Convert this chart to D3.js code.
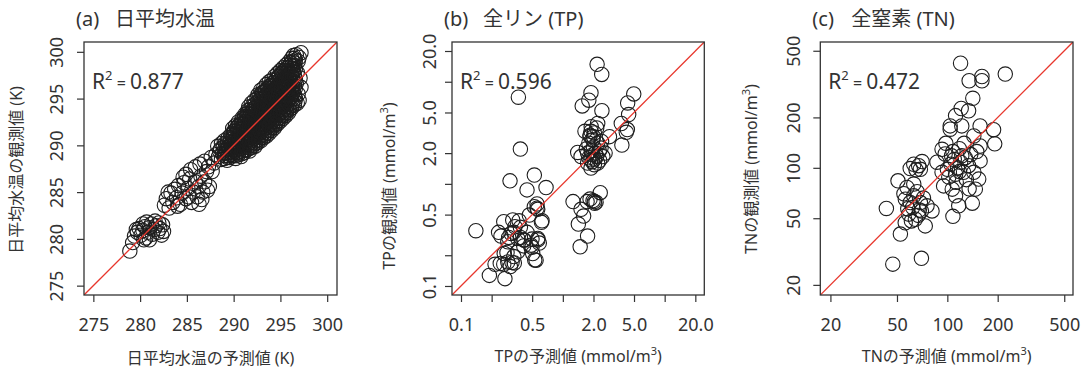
<!DOCTYPE html>
<html lang="ja">
<head>
<meta charset="UTF-8">
<title>予測値と観測値</title>
<script src="https://d3js.org/d3.v7.min.js"></script>
<style>
    body { margin: 0; background: #fff; }
    svg { display: block; font-family: "Noto Sans", "Noto Sans CJK JP", sans-serif; }
</style>
</head>
<body>
<svg id="chart" width="1083" height="369"></svg>
<script>
// (a) daily mean water temperature: [predicted, observed] (K)
const tempPoints = [
    [278.9,278.7],[279.2,279.6],[279.4,280.3],[279.7,280.7],[279.9,281.1],[280.1,280.4],[280.3,280.9],[280.5,281.3],[280.6,280.1],
    [280.8,280.7],[281.0,281.2],[281.2,281.6],[281.3,280.5],[281.5,281.0],[281.7,281.4],[281.9,280.7],[282.1,281.1],[282.3,280.4],
    [282.5,280.8],[281.0,279.9],[279.6,281.0],[280.3,281.6],[281.6,281.9],[282.0,281.7],[280.7,281.8],[282.4,281.5],[280.4,279.9],
    [282.6,283.6],[282.8,284.3],[283.1,283.3],[283.3,284.9],[283.5,283.9],[283.7,285.3],[283.9,284.4],[284.1,285.7],[284.3,283.7],
    [284.5,284.9],[284.7,286.0],[284.9,284.3],[285.1,285.4],[285.3,286.4],[285.5,283.9],[285.7,285.0],[285.9,286.1],[286.1,284.5],
    [286.3,285.6],[286.5,286.7],[286.7,285.0],[286.9,286.1],[287.1,287.2],[284.9,286.9],[285.4,287.4],[285.9,287.7],[286.4,288.0],
    [286.9,288.3],[287.3,287.7],[287.6,288.7],[287.9,288.1],[288.1,289.0],[287.7,287.2],[286.3,283.7],[287.2,285.2],[283.0,285.0],
    [284.6,286.6],[284.0,283.5],[285.2,284.5],[286.6,284.2],[287.4,285.6],
    [288.4,288.8],[288.5,289.4],[288.3,289.9],
    [288.7,288.5],[288.8,289.1],[288.6,289.6],[288.7,290.2],
    [289.0,288.6],[289.1,289.2],[288.9,289.8],[289.0,290.5],
    [289.3,288.4],[289.4,288.9],[289.2,289.5],[289.3,290.1],[289.4,290.8],
    [289.6,288.7],[289.7,289.3],[289.5,289.9],[289.6,290.4],[289.7,291.1],
    [289.9,288.9],[290.0,289.5],[289.8,290.1],[289.9,290.7],[290.0,291.3],[289.9,291.8],
    [290.2,288.6],[290.3,289.2],[290.1,289.8],[290.2,290.3],[290.3,290.9],[290.1,291.5],[290.2,292.1],
    [290.5,289.0],[290.6,289.6],[290.4,290.2],[290.5,290.8],[290.6,291.4],[290.4,292.0],[290.5,292.5],
    [290.8,288.8],[290.9,289.4],[290.7,290.0],[290.8,290.5],[290.9,291.1],[290.7,291.7],[290.8,292.3],[290.9,292.9],
    [291.1,289.2],[291.2,289.8],[291.0,290.4],[291.1,291.0],[291.2,291.6],[291.0,292.2],[291.1,292.8],[291.2,293.3],
    [291.4,289.5],[291.5,290.1],[291.3,290.7],[291.4,291.3],[291.5,291.9],[291.3,292.5],[291.4,293.1],[291.5,293.7],
    [291.7,289.4],[291.8,290.0],[291.6,290.6],[291.7,291.2],[291.8,291.8],[291.6,292.4],[291.7,293.0],[291.8,293.6],[291.6,294.1],
    [292.0,289.8],[292.1,290.3],[291.9,290.9],[292.0,291.5],[292.1,292.1],[291.9,292.7],[292.0,293.3],[292.1,293.9],[291.9,294.5],
    [292.3,289.9],[292.4,290.5],[292.2,291.1],[292.3,291.7],[292.4,292.3],[292.2,292.9],[292.3,293.5],[292.4,294.1],[292.2,294.8],
    [292.6,290.3],[292.7,290.9],[292.5,291.5],[292.6,292.0],[292.7,292.6],[292.5,293.2],[292.6,293.8],[292.7,294.4],[292.5,295.0],[292.6,295.4],
    [292.9,290.5],[293.0,291.1],[292.8,291.7],[292.9,292.3],[293.0,292.9],[292.8,293.5],[292.9,294.1],[293.0,294.7],[292.8,295.3],[292.9,295.9],
    [293.2,290.8],[293.3,291.4],[293.1,292.0],[293.2,292.6],[293.3,293.2],[293.1,293.8],[293.2,294.4],[293.3,295.0],[293.1,295.6],[293.2,296.1],
    [293.5,291.0],[293.6,291.6],[293.4,292.2],[293.5,292.8],[293.6,293.4],[293.4,294.0],[293.5,294.6],[293.6,295.2],[293.4,295.8],[293.5,296.5],
    [293.8,291.3],[293.9,291.9],[293.7,292.5],[293.8,293.1],[293.9,293.7],[293.7,294.3],[293.8,294.9],[293.9,295.5],[293.7,296.1],[293.8,296.8],
    [294.1,291.6],[294.2,292.2],[294.0,292.8],[294.1,293.4],[294.2,294.0],[294.0,294.6],[294.1,295.2],[294.2,295.8],[294.0,296.4],[294.1,297.0],
    [294.4,291.9],[294.5,292.5],[294.3,293.1],[294.4,293.7],[294.5,294.3],[294.3,294.9],[294.4,295.5],[294.5,296.1],[294.3,296.7],[294.4,297.4],
    [294.7,292.3],[294.8,292.9],[294.6,293.5],[294.7,294.1],[294.8,294.7],[294.6,295.3],[294.7,295.9],[294.8,296.5],[294.6,297.1],[294.7,297.7],
    [295.0,292.6],[295.1,293.2],[294.9,293.8],[295.0,294.4],[295.1,295.0],[294.9,295.6],[295.0,296.2],[295.1,296.8],[294.9,297.4],[295.0,298.0],
    [295.3,292.9],[295.4,293.5],[295.2,294.1],[295.3,294.7],[295.4,295.3],[295.2,295.9],[295.3,296.5],[295.4,297.1],[295.2,297.7],[295.3,298.3],
    [295.6,293.2],[295.7,293.8],[295.5,294.4],[295.6,295.0],[295.7,295.6],[295.5,296.2],[295.6,296.8],[295.7,297.4],[295.5,298.0],[295.6,298.6],
    [295.9,293.5],[296.0,294.1],[295.8,294.7],[295.9,295.3],[296.0,295.9],[295.8,296.5],[295.9,297.1],[296.0,297.7],[295.8,298.3],[295.9,298.9],
    [296.2,294.0],[296.3,294.6],[296.1,295.2],[296.2,295.8],[296.3,296.4],[296.1,297.0],[296.2,297.6],[296.3,298.2],[296.1,298.8],[296.2,299.3],
    [296.5,294.3],[296.6,295.0],[296.4,295.7],[296.5,296.4],[296.6,297.1],[296.4,297.8],[296.5,298.5],[296.6,299.1],[296.4,299.6],
    [296.8,294.5],[296.9,295.5],[296.7,296.6],[296.8,297.8],[296.9,299.0],[296.7,299.7],
    [297.0,294.8],[297.2,296.2],[297.1,297.2],[297.0,299.4],[297.2,299.9],
    [289.05,288.9],[289.0,289.5],[289.1,290.2],
    [289.35,288.7],[289.3,289.2],[289.4,289.8],[289.35,290.4],
    [289.65,289.0],[289.6,289.6],[289.7,290.1],[289.65,290.8],
    [289.95,289.2],[290.0,289.8],[289.9,290.4],[289.95,291.0],[290.0,291.5],
    [290.25,288.9],[290.2,289.5],[290.3,290.0],[290.25,290.6],[290.2,291.2],[290.3,291.8],
    [290.55,289.3],[290.5,289.9],[290.6,290.5],[290.55,291.1],[290.5,291.7],[290.6,292.2],
    [290.85,289.1],[290.8,289.7],[290.9,290.3],[290.85,290.8],[290.8,291.4],[290.9,292.0],[290.85,292.6],
    [291.15,289.5],[291.1,290.1],[291.2,290.7],[291.15,291.3],[291.1,291.9],[291.2,292.5],[291.15,293.0],
    [291.45,289.8],[291.4,290.4],[291.5,291.0],[291.45,291.6],[291.4,292.2],[291.5,292.8],[291.45,293.4],
    [291.75,289.7],[291.7,290.3],[291.8,290.9],[291.75,291.5],[291.7,292.1],[291.8,292.7],[291.75,293.3],[291.7,293.8],
    [292.05,290.0],[292.0,290.6],[292.1,291.2],[292.05,291.8],[292.0,292.4],[292.1,293.0],[292.05,293.6],[292.0,294.2],
    [292.35,290.2],[292.3,290.8],[292.4,291.4],[292.35,292.0],[292.3,292.6],[292.4,293.2],[292.35,293.8],[292.3,294.4],
    [292.65,290.6],[292.6,291.2],[292.7,291.8],[292.65,292.3],[292.6,292.9],[292.7,293.5],[292.65,294.1],[292.6,294.7],
    [292.95,290.8],[292.9,291.4],[293.0,292.0],[292.95,292.6],[292.9,293.2],[293.0,293.8],[292.95,294.4],[292.9,295.0],[293.0,295.6],
    [293.25,291.1],[293.2,291.7],[293.3,292.3],[293.25,292.9],[293.2,293.5],[293.3,294.1],[293.25,294.7],[293.2,295.3],[293.3,295.8],
    [293.55,291.3],[293.5,291.9],[293.6,292.5],[293.55,293.1],[293.5,293.7],[293.6,294.3],[293.55,294.9],[293.5,295.5],[293.6,296.1],
    [293.85,291.6],[293.8,292.2],[293.9,292.8],[293.85,293.4],[293.8,294.0],[293.9,294.6],[293.85,295.2],[293.8,295.8],[293.9,296.4],
    [294.15,291.9],[294.1,292.5],[294.2,293.1],[294.15,293.7],[294.1,294.3],[294.2,294.9],[294.15,295.5],[294.1,296.1],[294.2,296.7],
    [294.45,292.2],[294.4,292.8],[294.5,293.4],[294.45,294.0],[294.4,294.6],[294.5,295.2],[294.45,295.8],[294.4,296.4],[294.5,297.0],
    [294.75,292.6],[294.7,293.2],[294.8,293.8],[294.75,294.4],[294.7,295.0],[294.8,295.6],[294.75,296.2],[294.7,296.8],[294.8,297.4],
    [295.05,292.9],[295.0,293.5],[295.1,294.1],[295.05,294.7],[295.0,295.3],[295.1,295.9],[295.05,296.5],[295.0,297.1],[295.1,297.7],
    [295.35,293.2],[295.3,293.8],[295.4,294.4],[295.35,295.0],[295.3,295.6],[295.4,296.2],[295.35,296.8],[295.3,297.4],[295.4,298.0],
    [295.65,293.5],[295.6,294.1],[295.7,294.7],[295.65,295.3],[295.6,295.9],[295.7,296.5],[295.65,297.1],[295.6,297.7],[295.7,298.3],
    [295.95,293.8],[295.9,294.4],[296.0,295.0],[295.95,295.6],[295.9,296.2],[296.0,296.8],[295.95,297.4],[295.9,298.0],[296.0,298.6],
    [296.25,294.3],[296.2,294.9],[296.3,295.5],[296.25,296.1],[296.2,296.7],[296.3,297.3],[296.25,297.9],[296.2,298.5],[296.3,299.0],
    [296.55,294.7],[296.5,295.4],[296.6,296.1],[296.55,296.8],[296.5,297.5],[296.6,298.2],[296.55,298.8],[296.5,299.3]
];

// (b) total phosphorus: [predicted, observed] (mmol/m3)
const tpPoints = [
    [2.17,14.8],[2.41,11.8],[1.89,7.8],[1.80,6.6],[1.55,5.8],[2.42,5.2],[4.97,7.6],[4.33,6.2],[4.43,4.77],[3.75,3.9],
    [4.30,3.4],[4.20,3.2],[3.80,2.4],[2.87,2.9],[2.20,3.9],[1.40,2.03],
    [1.65,3.27],[1.89,3.27],[2.04,3.15],[1.85,2.92],[1.97,2.71],[2.20,2.51],[2.37,2.24],[1.75,2.00],[1.97,1.93],[2.15,1.85],
    [1.89,1.72],[1.75,1.60],[2.04,1.54],[1.89,1.43],[2.47,1.85],[2.28,2.10],[1.51,1.85],[2.15,3.53],[1.90,3.63],[1.80,2.50],
    [2.00,2.30],[2.10,2.00],[1.80,1.80],[1.95,1.65],[2.30,1.70],[1.70,2.20],[2.60,2.00],[1.90,2.10],[2.05,1.75],[1.85,3.00],
    [2.00,2.90],[2.40,2.60],[2.20,1.60],
    [1.26,0.67],[2.33,0.82],[2.04,0.67],[1.85,0.71],[1.73,0.67],[2.06,0.645],[1.51,0.563],[1.60,0.484],[1.42,0.404],
    [1.75,0.308],[1.48,0.242],[1.98,0.685],[2.12,0.66],
    [0.14,0.348],[0.19,0.127],[0.27,0.118],[0.216,0.163],[0.243,0.166],[0.288,0.172],[0.334,0.168],[0.266,0.208],[0.36,0.216],
    [0.506,0.208],[0.546,0.179],[0.247,0.308],[0.31,0.327],[0.36,0.292],[0.418,0.281],[0.488,0.251],[0.567,0.292],[0.288,0.271],
    [0.339,0.38],[0.263,0.426],[0.322,0.443],[0.372,0.435],[0.469,0.495],[0.525,0.598],[0.567,0.563],[0.625,0.435],[0.525,1.22],
    [0.303,1.07],[0.445,0.873],[0.684,0.92],[0.383,0.375],[0.294,0.299],[0.383,0.299],[0.413,0.283],[0.498,0.288],[0.57,0.283],
    [0.587,0.263],[0.498,0.239],[0.413,0.247],[0.283,0.213],[0.33,0.194],[0.317,0.17],[0.263,0.163],[0.305,0.155],[0.53,0.18],
    [0.558,0.577],[0.558,0.636],[0.617,0.42],[0.33,0.335],[0.445,0.335],[0.234,0.335],
    [0.366,7.06],[0.383,2.19]
];

// (c) total nitrogen: [predicted, observed] (mmol/m3)
const tnPoints = [
    [120,421],[222,363],[161,351],[161,331],[135,331],[142,260],[121,226],[134,219],[112,205],[122,178],
    [104,178],[104,170],[157,178],[189,169],[192,139],[157,135],[144,155],[93,129],[97,121],[86.7,108],
    [93,94],[95,78],[107,74.6],[112,68],[117,59.3],[108,51.3],[141,61.5],[147,74.6],[154,85.6],[157,110],
    [134,103],[122,118],[125,94],[112,91.6],[144,94],[105,105],[110,112],[115,100],[100,98],[120,108],
    [108,125],[118,130],[128,115],[102,88],[130,85],[138,120],[113,82],[126,140],[150,125],[98,140],
    [135,75],[118,95],[106,118],
    [43.2,57.2],[47.2,26.6],[70,28.8],[52.4,40.2],[50.7,83.6],[57.4,76.3],[63,105],[67.4,103],[70.6,109],
    [65,97.3],[60,99],[69,98],[56.1,65],[63,68],[69,62],[75.6,59.3],[81,55.3],[58.8,52.9],[64.4,49.3],
    [61,48.2],[56,47],[73.8,45],[70,55.3],[62,58],[66,72],[60,62],[72,66],[58,57],[55,70],[67,52],[63,80],[68,56]
];

const tempTicks = [275, 280, 285, 290, 295, 300];
const tpTicks = [0.1, 0.2, 0.5, 1, 2, 5, 10, 20];
const tpTickLabels = ["0.1", "", "0.5", "", "2.0", "5.0", "", "20.0"];
const tnTicks = [20, 50, 100, 200, 500];
const tnTickLabels = ["20", "50", "100", "200", "500"];
const r2Values = ["0.877", "0.596", "0.472"];

const svg = d3.select("#chart");
const textColor = "#333";
const plotTop = 42, plotBottom = 295;

const panels = [
    {
        id: "a", left: 84, right: 337, tag: "(a)", title: "日平均水温",
        scale: d3.scaleLinear().domain([274.0, 301.05]),
        points: tempPoints, ticks: tempTicks, labels: tempTicks.map(String), r2: r2Values[0],
        xLabel: ["日平均水温の予測値 (K)"], yLabel: ["日平均水温の観測値 (K)"],
        yTickGap: 21, yTitleX: 22, yTitleY: 170, xTitleY: 364
    },
    {
        id: "b", left: 452, right: 704.3, tag: "(b)", title: "全リン (TP)",
        scale: d3.scaleLog().domain([0.0816, 24.5]),
        points: tpPoints, ticks: tpTicks, labels: tpTickLabels, r2: r2Values[1],
        xLabel: ["TPの予測値 (mmol/m", "3", ")"], yLabel: ["TPの観測値 (mmol/m", "3", ")"],
        yTickGap: 16, yTitleX: 395, yTitleY: 186, xTitleY: 362
    },
    {
        id: "c", left: 820.3, right: 1073, tag: "(c)", title: "全窒素 (TN)",
        scale: d3.scaleLog().domain([17.4, 564]),
        points: tnPoints, ticks: tnTicks, labels: tnTickLabels, r2: r2Values[2],
        xLabel: ["TNの予測値 (mmol/m", "3", ")"], yLabel: ["TNの観測値 (mmol/m", "3", ")"],
        yTickGap: 20, yTitleX: 757, yTitleY: 169, xTitleY: 362
    }
];

function addLabel(sel, parts) {
    sel.append("tspan").text(parts[0]);
    if (parts.length > 1) {
        sel.append("tspan").attr("font-size", "11px").attr("dy", "-7").text(parts[1]);
        sel.append("tspan").attr("dy", "7").text(parts[2]);
    }
}

panels.forEach(p => {
    const x = p.scale.copy().range([p.left, p.right]);
    const y = p.scale.copy().range([plotBottom, plotTop]);
    const g = svg.append("g");

    g.append("clipPath").attr("id", "clip-" + p.id)
        .append("rect")
        .attr("x", p.left).attr("y", plotTop)
        .attr("width", p.right - p.left).attr("height", plotBottom - plotTop);

    const plot = g.append("g").attr("clip-path", `url(#clip-${p.id})`);

    plot.selectAll("circle")
        .data(p.points)
        .join("circle")
        .attr("cx", d => x(d[0]))
        .attr("cy", d => y(d[1]))
        .attr("r", 7.2)
        .attr("fill", "none")
        .attr("stroke", "#1e1e1e")
        .attr("stroke-width", 1.1);

    // 1:1 line
    const dom = p.scale.domain();
    plot.append("line")
        .attr("x1", x(dom[0])).attr("y1", y(dom[0]))
        .attr("x2", x(dom[1])).attr("y2", y(dom[1]))
        .attr("stroke", "#e8362c")
        .attr("stroke-width", 1.3);

    // frame
    g.append("rect")
        .attr("x", p.left).attr("y", plotTop)
        .attr("width", p.right - p.left).attr("height", plotBottom - plotTop)
        .attr("fill", "none")
        .attr("stroke", "#333")
        .attr("stroke-width", 1.3);

    // x axis
    const xAxis = g.append("g")
        .attr("transform", `translate(0,${plotBottom})`)
        .call(d3.axisBottom(x).tickValues(p.ticks).tickSize(7).tickSizeOuter(0)
            .tickFormat((d, i) => p.labels[i]));
    xAxis.attr("font-family", null);
    xAxis.select(".domain").remove();
    xAxis.selectAll("line").attr("stroke", "#333").attr("stroke-width", 1.2);
    xAxis.selectAll("text")
        .attr("y", 36).attr("dy", null)
        .attr("font-size", "18px")
        .attr("fill", textColor);

    // y axis
    const yAxis = g.append("g")
        .attr("transform", `translate(${p.left},0)`)
        .call(d3.axisLeft(y).tickValues(p.ticks).tickSize(7).tickSizeOuter(0)
            .tickFormat((d, i) => p.labels[i]));
    yAxis.attr("font-family", null);
    yAxis.select(".domain").remove();
    yAxis.selectAll("line").attr("stroke", "#333").attr("stroke-width", 1.2);
    yAxis.selectAll("text")
        .attr("transform", "rotate(-90)")
        .attr("x", 0).attr("y", -p.yTickGap).attr("dy", null)
        .attr("text-anchor", "middle")
        .attr("font-size", "18px")
        .attr("fill", textColor);

    // title
    const title = g.append("text")
        .attr("y", 26)
        .attr("font-size", "20px")
        .attr("fill", textColor);
    title.append("tspan").attr("x", p.left - 8).text(p.tag);
    title.append("tspan").attr("x", p.left + 31).text(p.title);

    // R^2 label
    const r2 = g.append("text")
        .attr("x", p.left + 8).attr("y", 89)
        .attr("font-size", "21px")
        .attr("fill", textColor);
    r2.append("tspan").text("R");
    r2.append("tspan").attr("font-size", "13px").attr("dy", "-9").text("2");
    r2.append("tspan").attr("font-size", "16px").attr("dy", "9").text(" = ");
    r2.append("tspan").text(p.r2);

    // axis titles
    const xt = g.append("text")
        .attr("x", (p.left + p.right) / 2).attr("y", p.xTitleY)
        .attr("text-anchor", "middle")
        .attr("font-size", "16px")
        .attr("fill", textColor);
    addLabel(xt, p.xLabel);

    const yt = g.append("text")
        .attr("transform", `translate(${p.yTitleX},${p.yTitleY}) rotate(-90)`)
        .attr("text-anchor", "middle")
        .attr("font-size", "16px")
        .attr("fill", textColor);
    addLabel(yt, p.yLabel);
});
</script>
</body>
</html>
